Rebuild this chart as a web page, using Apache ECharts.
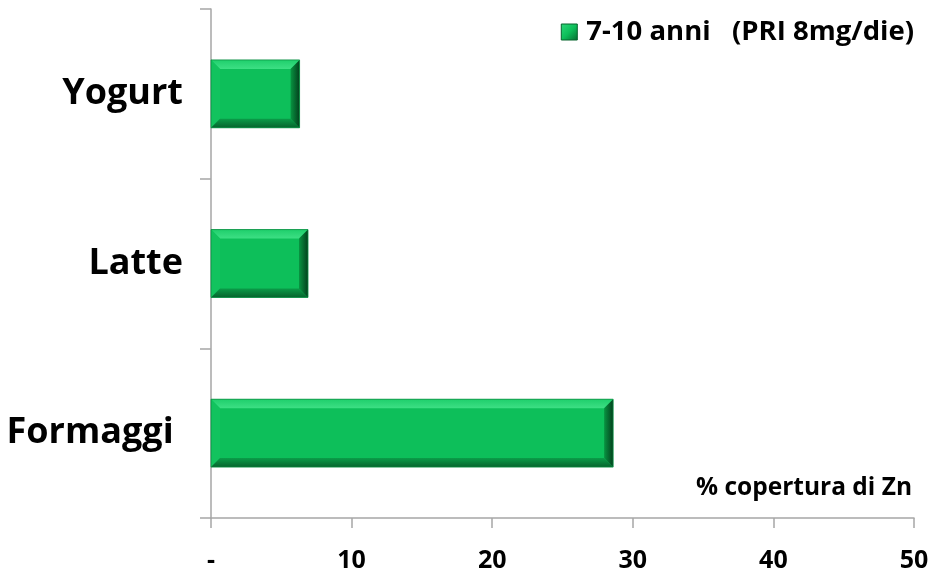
<!DOCTYPE html>
<html>
<head>
<meta charset="utf-8">
<script src="https://cdn.jsdelivr.net/npm/echarts@6/dist/echarts.min.js"></script>
<style>
  html, body { margin: 0; padding: 0; background: #fff; }
  #chart { width: 933px; height: 573px; }
</style>
</head>
<body>
<div id="chart"></div>
<script>
// Zinc coverage (% of PRI) provided by dairy foods, children 7-10 years
const categories = ['Formaggi ', 'Latte', 'Yogurt'];
const coverage = [28.6, 6.9, 6.3];
const seriesName = '7-10 anni   (PRI 8mg/die)';
const axisTitle = '% copertura di Zn';
const xTicks = [0, 10, 20, 30, 40, 50];

const FONT = '"Open Sans", "Noto Sans", sans-serif';
const GREEN = '#0dbf5a';

// Bevelled bar: flat face plus light/dark edge facets
function renderBevelBar(params, api) {
  const cat = api.value(0);
  const val = api.value(1);
  const start = api.coord([0, cat]);
  const end = api.coord([val, cat]);
  const h = api.size([0, 1])[1] * 0.4;
  const x0 = start[0], x1 = end[0];
  const y0 = start[1] - h / 2, y1 = start[1] + h / 2;
  const b = Math.min(9, (x1 - x0) / 3);
  return {
    type: 'group',
    children: [
      { type: 'rect', shape: { x: x0, y: y0, width: x1 - x0, height: h },
        style: { fill: GREEN } },
      // top facet
      { type: 'polygon', shape: { points: [[x0, y0], [x1, y0], [x1 - b, y0 + b], [x0 + b, y0 + b]] },
        style: { fill: { type: 'linear', x: 0, y: 0, x2: 0, y2: 1,
          colorStops: [{ offset: 0, color: '#1fcf6c' }, { offset: 1, color: '#3ddf84' }] } } },
      // left facet
      { type: 'polygon', shape: { points: [[x0, y0], [x0 + b, y0 + b], [x0 + b, y1 - b], [x0, y1]] },
        style: { fill: '#12c35e' } },
      // bottom facet
      { type: 'polygon', shape: { points: [[x0, y1], [x0 + b, y1 - b], [x1 - b, y1 - b], [x1, y1]] },
        style: { fill: { type: 'linear', x: 0, y: 0, x2: 0, y2: 1,
          colorStops: [{ offset: 0, color: '#0a9c48' }, { offset: 1, color: '#06642d' }] } } },
      // right facet
      { type: 'polygon', shape: { points: [[x1, y0], [x1, y1], [x1 - b, y1 - b], [x1 - b, y0 + b]] },
        style: { fill: { type: 'linear', x: 0, y: 0, x2: 1, y2: 0,
          colorStops: [{ offset: 0, color: '#089441' }, { offset: 1, color: '#03401d' }] } } },
      { type: 'rect', shape: { x: x0, y: y0, width: x1 - x0, height: h },
        style: { fill: 'none', stroke: '#0a8f43', lineWidth: 0.8 } }
    ]
  };
}

const chart = echarts.init(document.getElementById('chart'), null, { renderer: 'canvas' });
chart.setOption({
  animation: false,
  backgroundColor: '#ffffff',
  grid: { left: 211, right: 19, top: 9, bottom: 55, containLabel: false },
  legend: {
    right: 14, top: 13,
    itemWidth: 16, itemHeight: 16, itemGap: 8,
    icon: 'rect',
    data: [{
      name: seriesName,
      itemStyle: {
        color: { type: 'linear', x: 0, y: 0, x2: 1, y2: 1,
          colorStops: [{ offset: 0, color: '#2fd77a' }, { offset: 0.5, color: '#0dbf5a' }, { offset: 1, color: '#066a30' }] },
        borderColor: '#06642d', borderWidth: 1
      }
    }],
    textStyle: { fontFamily: FONT, fontWeight: 'bold', fontSize: 27.5, color: '#000', padding: [0, 0, 0, 4] }
  },
  xAxis: {
    type: 'value', min: xTicks[0], max: xTicks[xTicks.length - 1], interval: 10,
    axisLine: { show: true, lineStyle: { color: '#a6a6a6', width: 1.5 } },
    axisTick: { show: true, length: 10, lineStyle: { color: '#a6a6a6', width: 1.5 } },
    splitLine: { show: false },
    axisLabel: {
      margin: 30, fontFamily: FONT, fontWeight: 'bold', fontSize: 25, color: '#000',
      formatter: v => (v === 0 ? '-' : String(v))
    }
  },
  yAxis: {
    type: 'category', data: categories,
    axisLine: { show: true, lineStyle: { color: '#a6a6a6', width: 1.5 } },
    axisTick: { show: true, length: 11, lineStyle: { color: '#a6a6a6', width: 1.5 } },
    axisLabel: { margin: 28, fontFamily: FONT, fontWeight: 'bold', fontSize: 36, color: '#000' }
  },
  graphic: [{
    type: 'text', right: 21, top: 476,
    style: { text: axisTitle, fontFamily: FONT, fontWeight: 'bold', fontSize: 24.5, fill: '#000' }
  }],
  series: [{
    name: seriesName,
    type: 'custom',
    renderItem: renderBevelBar,
    encode: { x: 1, y: 0 },
    data: categories.map((c, i) => [i, coverage[i]])
  }]
});
</script>
</body>
</html>
